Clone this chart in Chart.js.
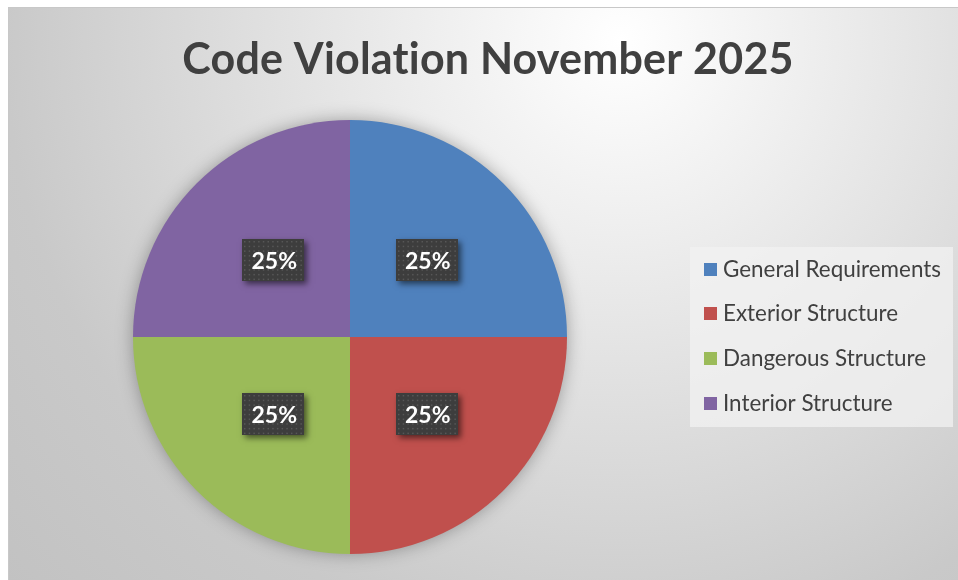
<!DOCTYPE html>
<html>
<head>
<meta charset="UTF-8">
<title>Code Violation November 2025</title>
<script src="https://cdn.jsdelivr.net/npm/chart.js"></script>
<style>
  html, body { margin: 0; padding: 0; background: #fff; }
  canvas { display: block; }
</style>
</head>
<body>
<canvas id="violationChart" width="958" height="580"></canvas>
<script>
// data
var chartTitle = 'Code Violation November 2025';
var categories = ['General Requirements', 'Exterior Structure', 'Dangerous Structure', 'Interior Structure'];
var violationShares = [25, 25, 25, 25];
var sliceColors = ['#4f81bd', '#c0504d', '#9bbb59', '#8064a2'];

var textColor = '#404040';
var fontFamily = 'Lato, "Open Sans", sans-serif';

// pick a font size so a string fills a given width (Calibri stand-in)
function fitFont(ctx, text, weight, width) {
    ctx.font = weight + ' 40px ' + fontFamily;
    var w = ctx.measureText(text).width;
    return weight + ' ' + (40 * width / w).toFixed(2) + 'px ' + fontFamily;
}

// frame + radial gray background
var backgroundPlugin = {
    id: 'frameBackground',
    beforeDraw: function (chart) {
        var ctx = chart.ctx;
        ctx.save();
        ctx.fillStyle = '#ffffff';
        ctx.fillRect(0, 0, chart.width, chart.height);
        var g = ctx.createRadialGradient(620, 40, 0, 620, 40, 820);
        g.addColorStop(0, '#ffffff');
        g.addColorStop(0.75, '#c9c9c9');
        g.addColorStop(1, '#c2c2c2');
        ctx.fillStyle = g;
        ctx.fillRect(8, 7, chart.width - 8, chart.height - 7);
        ctx.fillStyle = '#c8c8c8';
        ctx.fillRect(8, 7, chart.width - 8, 1);
        ctx.fillRect(8, 7, 1, chart.height - 7);
        ctx.restore();
    }
};

// soft shadow under the whole pie
var pieShadowPlugin = {
    id: 'pieShadow',
    beforeDatasetsDraw: function (chart) {
        var arc = chart.getDatasetMeta(0).data[0];
        if (!arc) return;
        var ctx = chart.ctx;
        ctx.save();
        ctx.shadowColor = 'rgba(0, 0, 0, 0.35)';
        ctx.shadowBlur = 18;
        ctx.fillStyle = '#888888';
        ctx.beginPath();
        ctx.arc(arc.x, arc.y, arc.outerRadius - 1, 0, Math.PI * 2);
        ctx.fill();
        ctx.restore();
    }
};

// dark dotted boxes with the percentage
var labelBoxPlugin = {
    id: 'labelBoxes',
    afterDatasetsDraw: function (chart) {
        var ctx = chart.ctx;
        var values = chart.data.datasets[0].data;
        var total = values.reduce(function (a, b) { return a + b; }, 0);
        chart.getDatasetMeta(0).data.forEach(function (arc, i) {
            var p = arc.tooltipPosition();
            var w = 62, h = 42;
            var x = Math.round(p.x - w / 2), y = Math.round(p.y - h / 2);
            ctx.save();
            ctx.shadowColor = 'rgba(0, 0, 0, 0.55)';
            ctx.shadowBlur = 6;
            ctx.shadowOffsetX = 3;
            ctx.shadowOffsetY = 3;
            ctx.fillStyle = '#3d3d3d';
            ctx.fillRect(x, y, w, h);
            ctx.restore();

            ctx.save();
            ctx.fillStyle = '#575757';
            for (var dy = 2; dy < h - 1; dy += 4.7) {
                for (var dx = 2; dx < w - 1; dx += 4.7) {
                    ctx.fillRect(x + dx, y + dy, 1.5, 1.5);
                }
            }
            var label = Math.round(values[i] / total * 100) + '%';
            ctx.font = 'bold 23px ' + fontFamily;
            ctx.fillStyle = '#ffffff';
            ctx.textAlign = 'center';
            ctx.textBaseline = 'alphabetic';
            ctx.fillText(label, p.x + 1, p.y + 9);
            ctx.restore();
        });
    }
};

// title and legend panel
var titleLegendPlugin = {
    id: 'titleLegend',
    afterDraw: function (chart) {
        var ctx = chart.ctx;
        ctx.save();
        ctx.letterSpacing = '0.2px'; // keeps Lato from forming the "ti" ligature
        ctx.font = fitFont(ctx, chartTitle, 'bold', 612);
        ctx.fillStyle = textColor;
        ctx.textAlign = 'center';
        ctx.textBaseline = 'alphabetic';
        ctx.fillText(chartTitle, 488, 73.5);
        ctx.letterSpacing = '0px';

        ctx.fillStyle = 'rgba(242, 242, 242, 0.75)';
        ctx.fillRect(690, 247, 263, 180);

        var legendFont = fitFont(ctx, categories[0], 'normal', 218);
        var colors = chart.data.datasets[0].backgroundColor;
        chart.data.labels.forEach(function (name, i) {
            var cy = 269 + i * 44.7;
            ctx.fillStyle = colors[i];
            ctx.fillRect(704, Math.round(cy - 6.5), 13, 13);
            ctx.font = legendFont;
            ctx.fillStyle = textColor;
            ctx.textAlign = 'left';
            ctx.fillText(name, 723, cy + 7.5);
        });
        ctx.restore();
    }
};

new Chart('violationChart', {
    type: 'pie',
    data: {
        labels: categories,
        datasets: [{
            data: violationShares,
            backgroundColor: sliceColors,
            borderWidth: 0,
            hoverOffset: 0
        }]
    },
    options: {
        responsive: false,
        devicePixelRatio: 1,
        animation: false,
        // puts the pie at centre (350, 337) with radius 217
        layout: {
            padding: { left: 133, top: 120, right: 391, bottom: 26 }
        },
        plugins: {
            legend: { display: false },
            title: { display: false },
            tooltip: { enabled: false }
        }
    },
    plugins: [backgroundPlugin, pieShadowPlugin, labelBoxPlugin, titleLegendPlugin]
});
</script>
</body>
</html>
